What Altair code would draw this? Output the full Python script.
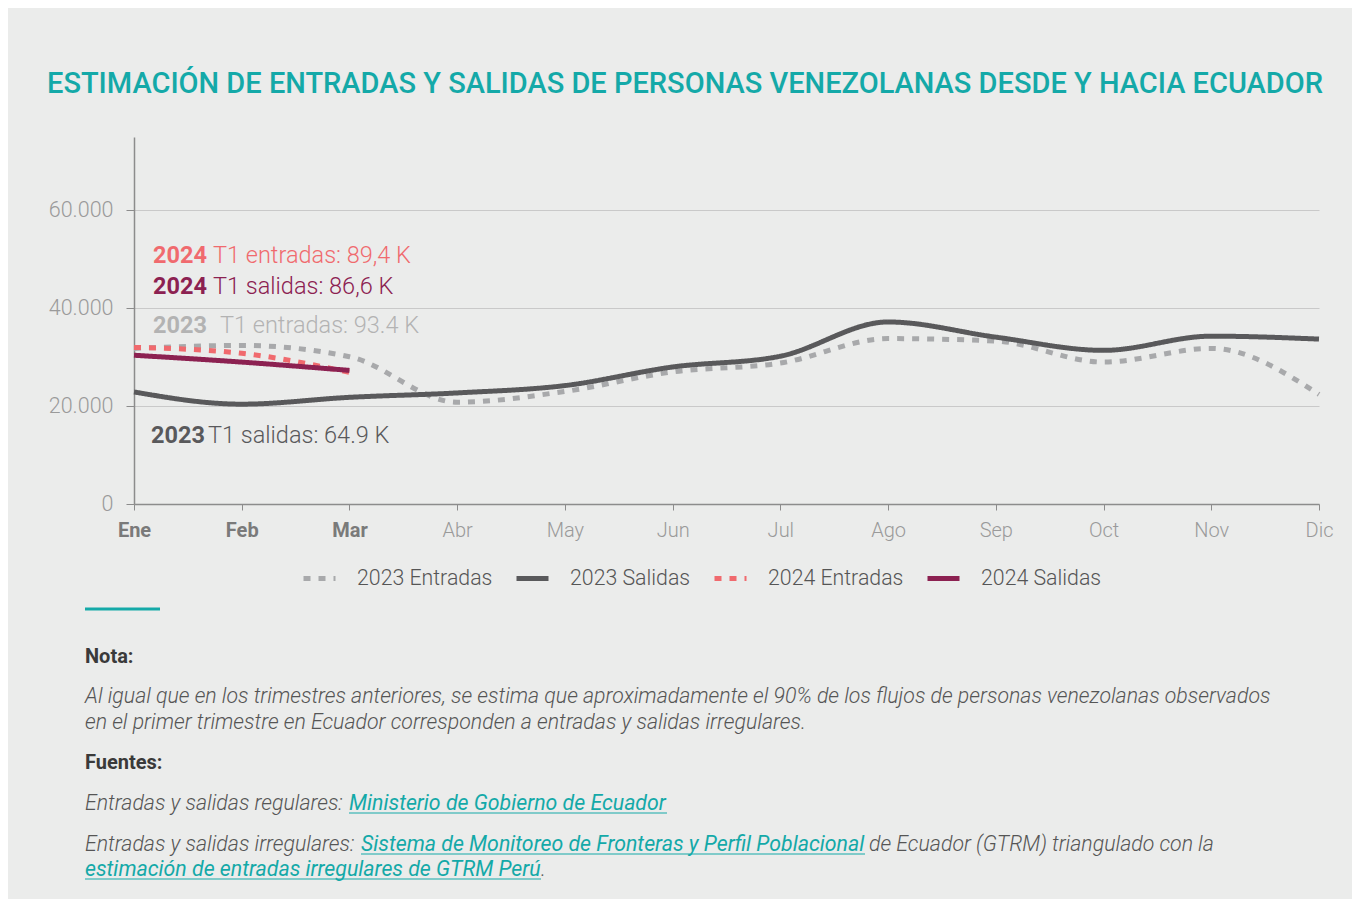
import altair as alt
import pandas as pd

meses = ['Ene', 'Feb', 'Mar', 'Abr', 'May', 'Jun', 'Jul', 'Ago', 'Sep', 'Oct', 'Nov', 'Dic']
entradas_2023 = [31800, 32400, 30100, 20800, 23000, 27000, 28800, 33800, 33300, 29000, 31800, 22400]
salidas_2023 = [22900, 20400, 21800, 22700, 24200, 28000, 30200, 37200, 34100, 31400, 34300, 33700]
entradas_2024 = [32000, 30800, 26900]
salidas_2024 = [30400, 29000, 27300]

series = ['2023 Entradas', '2023 Salidas', '2024 Entradas', '2024 Salidas']
colores = ['#a8a9ab', '#59595b', '#f06a6e', '#8c2151']
trazos = [[7, 8], [1, 0], [7, 8], [1, 0]]

TEAL = '#14a9a8'
titulo = 'ESTIMACIÓN DE ENTRADAS Y SALIDAS DE PERSONAS VENEZOLANAS DESDE Y HACIA ECUADOR'

rows = []
for name, vals in zip(series, [entradas_2023, salidas_2023, entradas_2024, salidas_2024]):
    for m, v in zip(meses, vals):
        rows.append({'mes': m, 'serie': name, 'valor': v})
df = pd.DataFrame(rows)

W, H = 1185, 367

leg = dict(title=None, orient='none', legendX=167, legendY=423,
           direction='horizontal', symbolType='stroke', symbolSize=1024,
           symbolStrokeWidth=5, labelFont='Roboto', labelFontSize=21.3,
           labelFontWeight=300, labelColor='#555555', labelOffset=19,
           columnPadding=13, labelLimit=300)

lines = alt.Chart(df).mark_line(interpolate='monotone', strokeWidth=5).encode(
    x=alt.X('mes:O', sort=meses, scale=alt.Scale(type='point', padding=0),
            axis=alt.Axis(title=None, labelAngle=0, domainColor='#8c8c8c', domainWidth=1.5,
                          tickColor='#8c8c8c', tickSize=6, tickWidth=1, labelPadding=10,
                          labelFont='Roboto', labelFontSize=20,
                          labelColor={"condition": {"test": "indexof(['Ene','Feb','Mar'], datum.value) >= 0", "value": "#7a7a7a"}, "value": "#9a9a9a"},
                          labelFontWeight={"condition": {"test": "indexof(['Ene','Feb','Mar'], datum.value) >= 0", "value": "bold"}, "value": 300},
                          grid=False)),
    y=alt.Y('valor:Q', scale=alt.Scale(domain=[0, 75000], nice=False),
            axis=alt.Axis(title=None, values=[0, 20000, 40000, 60000],
                          labelExpr="replace(format(datum.value, ','), ',', '.')",
                          grid=True, gridColor='#c9c9c9', gridWidth=1,
                          domainColor='#8c8c8c', domainWidth=1.5, tickColor='#8c8c8c', tickSize=8,
                          labelPadding=13, labelFont='Roboto', labelFontSize=21.5,
                          labelFontWeight=300, labelColor='#9a9a9a')),
    color=alt.Color('serie:N', scale=alt.Scale(domain=series, range=colores), legend=alt.Legend(**leg)),
    strokeDash=alt.StrokeDash('serie:N', scale=alt.Scale(domain=series, range=trazos), legend=alt.Legend(**leg)),
    order=alt.Order('serie:N')
)


def txt(t, x, y, color, size=21.3, weight=300, style='normal', font='Roboto'):
    return alt.Chart(pd.DataFrame({'t': [t]})).mark_text(
        align='left', baseline='alphabetic', font=font, fontSize=size,
        fontWeight=weight, fontStyle=style, color=color
    ).encode(text='t:N', x=alt.value(x), y=alt.value(y))


def rule(x1, x2, y, color, w=1):
    return alt.Chart(pd.DataFrame({'a': [0]})).mark_rule(color=color, strokeWidth=w).encode(
        x=alt.value(x1), x2=alt.value(x2), y=alt.value(y))


# annotations
anot_bold = ['2024', '2024', '2023', '2023']
anot_rest = ['T1 entradas: 89,4 K', 'T1 salidas: 86,6 K', 'T1 entradas: 93.4 K', 'T1 salidas: 64.9 K']
anot_color = ['#f06a6e', '#8c2151', '#b3b3b3', '#59595b']
anot_y = [126, 157, 196, 306]
anot_x = [19, 19, 19, 17]
anot_x2 = [79, 79, 86, 74]

layers = [lines]
for b, r, c, y, x, x2 in zip(anot_bold, anot_rest, anot_color, anot_y, anot_x, anot_x2):
    layers.append(txt(b, x, y, c, size=23.5, weight='bold'))
    layers.append(txt(r, x2, y, c, size=23.5, weight=300))

# title
layers.append(txt(titulo, -87, -44, TEAL, size=29, weight=500))

# footnote
nota = ['Al igual que en los trimestres anteriores, se estima que aproximadamente el 90% de los flujos de personas venezolanas observados',
        'en el primer trimestre en Ecuador corresponden a entradas y salidas irregulares.']
GRIS = '#555555'
layers.append(rule(-49, 26, 472, TEAL, 3))
layers.append(txt('Nota:', -49, 526, '#3a3a3a', size=20, weight='bold'))
layers.append(txt(nota[0], -49, 566, GRIS, style='italic'))
layers.append(txt(nota[1], -49, 592, GRIS, style='italic'))
layers.append(txt('Fuentes:', -49, 632, '#3a3a3a', size=20, weight='bold'))
layers.append(txt('Entradas y salidas regulares: ', -49, 673, GRIS, style='italic'))
layers.append(txt('Ministerio de Gobierno de Ecuador', 215, 673, TEAL, style='italic', weight=400))
layers.append(rule(215, 533, 676, TEAL, 1))
layers.append(txt('Entradas y salidas irregulares: ', -49, 714, GRIS, style='italic'))
layers.append(txt('Sistema de Monitoreo de Fronteras y Perfil Poblacional', 227, 714, TEAL, style='italic', weight=400))
layers.append(rule(227, 731, 717, TEAL, 1))
layers.append(txt('de Ecuador (GTRM) triangulado con la', 735, 714, GRIS, style='italic'))
layers.append(txt('estimación de entradas irregulares de GTRM Perú', -49, 739, TEAL, style='italic', weight=400))
layers.append(rule(-49, 407, 742, TEAL, 1))
layers.append(txt('.', 407, 739, GRIS, style='italic'))

chart = alt.layer(*layers).properties(
    width=W, height=H,
    autosize=alt.AutoSizeParams(type='none'),
    padding={'left': 126, 'top': 129, 'right': 33, 'bottom': 395},
    background='#ebeceb'
).configure_view(stroke=None)

chart.save('out.html', embed_options={'renderer': 'svg', 'actions': False})
